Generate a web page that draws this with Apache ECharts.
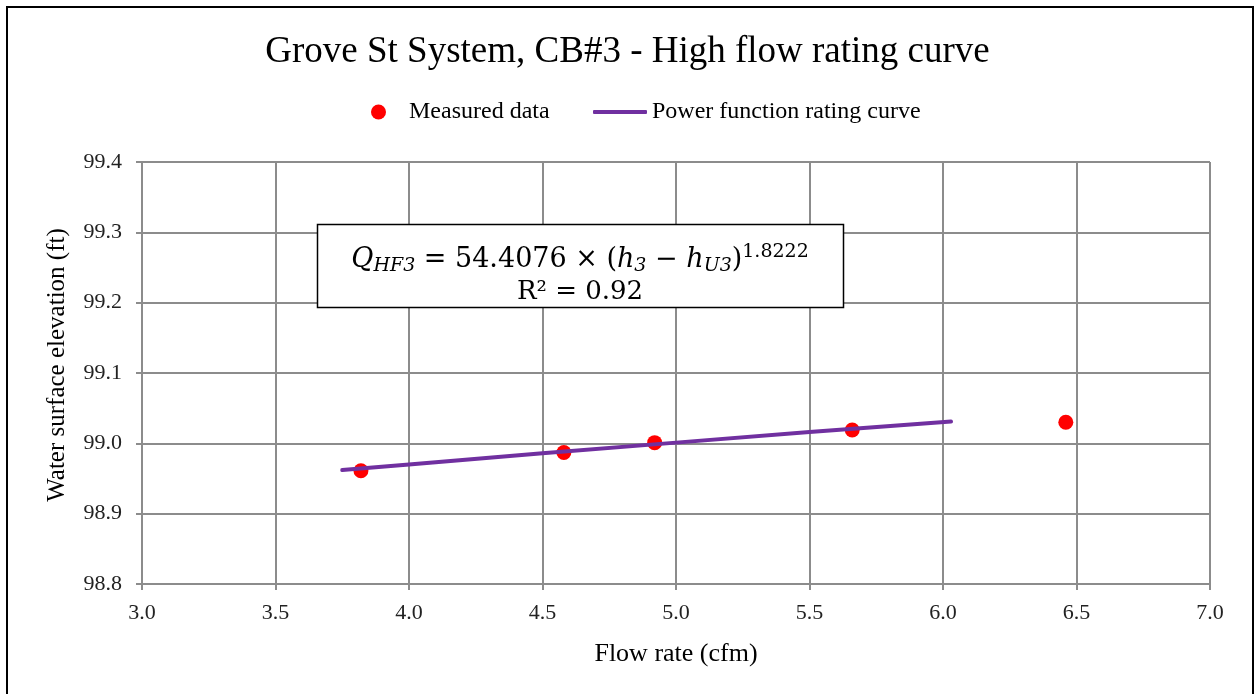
<!DOCTYPE html>
<html>
<head>
<meta charset="utf-8">
<style>
  html, body { margin: 0; padding: 0; background: #fff; }
  #chart { width: 1255px; height: 694px; }
</style>
<script src="https://cdn.jsdelivr.net/npm/echarts@6/dist/echarts.min.js"></script>
</head>
<body>
<div id="chart"></div>
<script>
// Measured high-flow observations at CB#3
const flowMeasured = [3.82, 4.58, 4.92, 5.66, 6.46];
const elevMeasured = [98.961, 98.987, 99.001, 99.019, 99.030];

// Fitted power-function rating curve, sampled along its drawn extent
const curveFlow = [3.75, 4.0, 4.5, 5.0, 5.5, 6.03];
const curveElev = [98.962, 98.970, 98.986, 99.001, 99.016, 99.031];

// Axis ranges and tick steps
const xTicks = { min: 3.0, max: 7.0, step: 0.5 };
const yTicks = { min: 98.8, max: 99.4, step: 0.1 };

const serif = '"Liberation Serif", "Times New Roman", serif';
const mathFont = '"DejaVu Serif", "Cambria Math", serif';
const gridGray = '#8c8c8c';

const chart = echarts.init(document.getElementById('chart'), null, { renderer: 'canvas' });

const measuredPts = flowMeasured.map((x, i) => [x, elevMeasured[i]]);
const curvePts = curveFlow.map((x, i) => [x, curveElev[i]]);

chart.setOption({
  backgroundColor: '#ffffff',
  animation: false,
  textStyle: { fontFamily: serif },
  title: {
    text: 'Grove St System, CB#3 - High flow rating curve',
    left: 'center',
    top: 29,
    textStyle: { fontFamily: serif, fontSize: 37, fontWeight: 'normal', color: '#000' }
  },
  legend: [
    {
      data: [{ name: 'Measured data', icon: 'circle' }],
      left: 366,
      top: 95,
      itemWidth: 15,
      itemHeight: 15,
      textStyle: { fontFamily: serif, fontSize: 24, color: '#000', padding: [0, 0, 0, 18] }
    },
    {
      data: [{ name: 'Power function rating curve', icon: 'roundRect' }],
      left: 588,
      top: 95,
      itemWidth: 54,
      itemHeight: 4,
      itemGap: 0,
      textStyle: { fontFamily: serif, fontSize: 24, color: '#000' }
    }
  ],
  grid: {
    left: 142,
    right: 45,
    top: 162,
    bottom: 110,
    show: false
  },
  xAxis: {
    type: 'value',
    min: xTicks.min,
    max: xTicks.max,
    interval: xTicks.step,
    name: 'Flow rate (cfm)',
    nameLocation: 'middle',
    nameGap: 57,
    nameTextStyle: { fontFamily: serif, fontSize: 26, color: '#000' },
    axisLine: { show: true, lineStyle: { color: gridGray, width: 2 } },
    axisTick: { show: true, length: 6, lineStyle: { color: gridGray, width: 2 } },
    axisLabel: {
      fontFamily: serif, fontSize: 22, color: '#222', margin: 18,
      formatter: v => v.toFixed(1)
    },
    splitLine: { show: true, lineStyle: { color: gridGray, width: 2 } }
  },
  yAxis: {
    type: 'value',
    min: yTicks.min,
    max: yTicks.max,
    interval: yTicks.step,
    name: 'Water surface elevation (ft)',
    nameLocation: 'middle',
    nameGap: 72,
    nameTextStyle: { fontFamily: serif, fontSize: 25, color: '#000', padding: [0, 0, 0, 16] },
    axisLine: { show: true, lineStyle: { color: gridGray, width: 2 } },
    axisTick: { show: true, length: 6, lineStyle: { color: gridGray, width: 2 } },
    axisLabel: {
      fontFamily: serif, fontSize: 22, color: '#222', margin: 20,
      formatter: v => v.toFixed(1)
    },
    splitLine: { show: true, lineStyle: { color: gridGray, width: 2 } }
  },
  series: [
    {
      name: 'Measured data',
      type: 'scatter',
      data: measuredPts,
      symbol: 'circle',
      symbolSize: 15,
      itemStyle: { color: '#ff0000', opacity: 1 },
      z: 3
    },
    {
      name: 'Power function rating curve',
      type: 'line',
      data: curvePts,
      showSymbol: false,
      symbol: 'none',
      smooth: false,
      lineStyle: { color: '#7030a0', width: 4, cap: 'round' },
      itemStyle: { color: '#7030a0' },
      z: 4
    }
  ],
  graphic: [
    {
      type: 'rect',
      z: 100,
      shape: { x: 7, y: 7, width: 1246, height: 700 },
      style: { fill: 'none', stroke: '#000', lineWidth: 2 },
      silent: true
    },
    {
      type: 'rect',
      z: 100,
      shape: { x: 317.5, y: 224.5, width: 526, height: 83 },
      style: { fill: '#ffffff', stroke: '#000000', lineWidth: 1.5 },
      silent: true
    },
    {
      type: 'text',
      z: 101,
      x: 580,
      y: 276,
      silent: true,
      style: {
        text: '{q|Q}{sub|HF3}{n| = 54.4076 × (}{q|h}{sub|3}{n| − }{q|h}{sub|U3}{n|)}{sup|1.8222}\n{r|R² = 0.92}',
        align: 'center',
        verticalAlign: 'middle',
        fill: '#000',
        rich: {
          q: { fontFamily: mathFont, fontStyle: 'italic', fontSize: 27, lineHeight: 33, verticalAlign: 'middle' },
          n: { fontFamily: mathFont, fontSize: 27, lineHeight: 33, verticalAlign: 'middle' },
          r: { fontFamily: mathFont, fontSize: 26, lineHeight: 33, verticalAlign: 'middle' },
          sub: { fontFamily: mathFont, fontStyle: 'italic', fontSize: 19, lineHeight: 18, verticalAlign: 'bottom' },
          sup: { fontFamily: mathFont, fontSize: 19, lineHeight: 18, verticalAlign: 'top' }
        }
      }
    }
  ]
});
</script>
</body>
</html>
